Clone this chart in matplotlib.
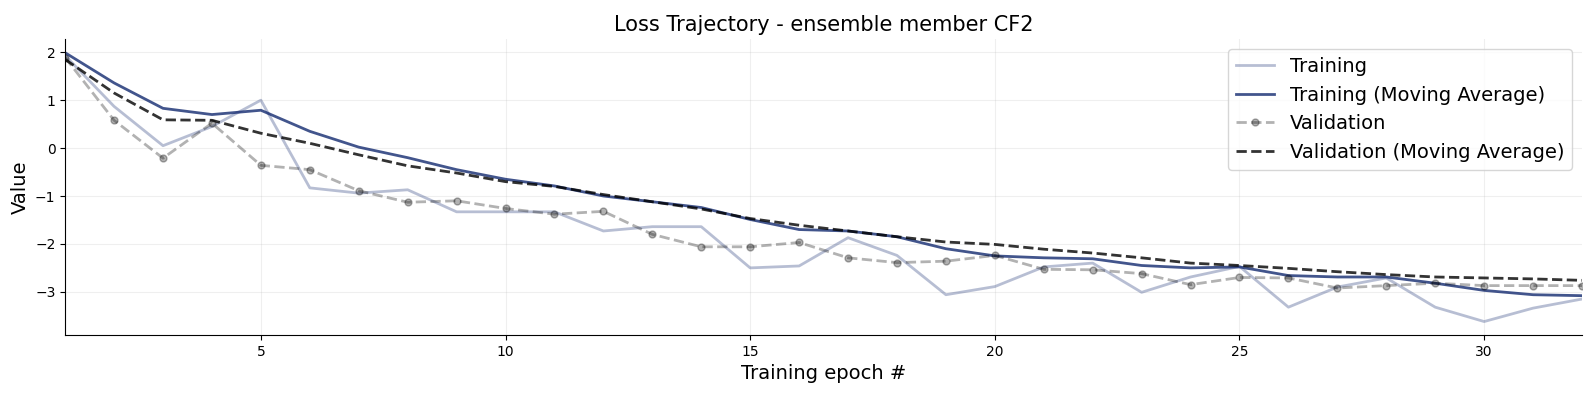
import matplotlib
matplotlib.use("Agg")
import matplotlib.pyplot as plt
import numpy as np

epochs = list(range(1, 33))

train_loss = [1.93, 0.87, 0.05, 0.45, 1.00, -0.83, -0.94, -0.87, -1.33, -1.33,
              -1.33, -1.73, -1.64, -1.64, -2.50, -2.46, -1.87, -2.24, -3.06, -2.89,
              -2.48, -2.40, -3.01, -2.69, -2.47, -3.32, -2.90, -2.71, -3.32, -3.62,
              -3.34, -3.15]
train_ma = [1.99, 1.36, 0.83, 0.70, 0.79, 0.35, 0.02, -0.20, -0.45, -0.65,
            -0.79, -1.00, -1.12, -1.24, -1.49, -1.70, -1.73, -1.85, -2.10, -2.25,
            -2.29, -2.31, -2.45, -2.50, -2.48, -2.66, -2.69, -2.69, -2.82, -2.97,
            -3.06, -3.08]
val_loss = [1.89, 0.58, -0.21, 0.52, -0.36, -0.45, -0.89, -1.13, -1.10, -1.26,
            -1.38, -1.32, -1.80, -2.06, -2.06, -1.97, -2.29, -2.39, -2.36, -2.24,
            -2.53, -2.54, -2.62, -2.85, -2.70, -2.71, -2.92, -2.87, -2.82, -2.87,
            -2.87, -2.87]
val_ma = [1.85, 1.15, 0.59, 0.58, 0.31, 0.10, -0.14, -0.37, -0.52, -0.70,
          -0.80, -0.97, -1.12, -1.27, -1.47, -1.61, -1.73, -1.85, -1.96, -2.01,
          -2.11, -2.19, -2.29, -2.40, -2.45, -2.51, -2.58, -2.64, -2.69, -2.71,
          -2.73, -2.76]

train_color = "#132a70"
val_color = "black"

fig, ax = plt.subplots(figsize=(15.89, 3.93), dpi=100)
ax.plot(epochs, train_loss, color=train_color, lw=2, alpha=0.3, label="Training")
ax.plot(epochs, train_ma, color=train_color, lw=2, alpha=0.8, label="Training (Moving Average)")
ax.plot(epochs, val_loss, color=val_color, lw=2, ls="--", marker="o", ms=5, alpha=0.3,
        label="Validation")
ax.plot(epochs, val_ma, color=val_color, lw=2, ls="--", alpha=0.8,
        label="Validation (Moving Average)")

ax.set_xlim(1, 32)
ax.grid(alpha=0.2)
ax.spines["top"].set_visible(False)
ax.spines["right"].set_visible(False)
ax.set_xlabel("Training epoch #", fontsize=14)
ax.set_ylabel("Value", fontsize=14)
ax.set_title("Loss Trajectory - ensemble member CF2", fontsize=15)
ax.legend(fontsize=14, loc="upper right")
fig.subplots_adjust(left=0.041, right=0.9956, top=0.900, bottom=0.1476)
fig.savefig("out.png", dpi=100)
